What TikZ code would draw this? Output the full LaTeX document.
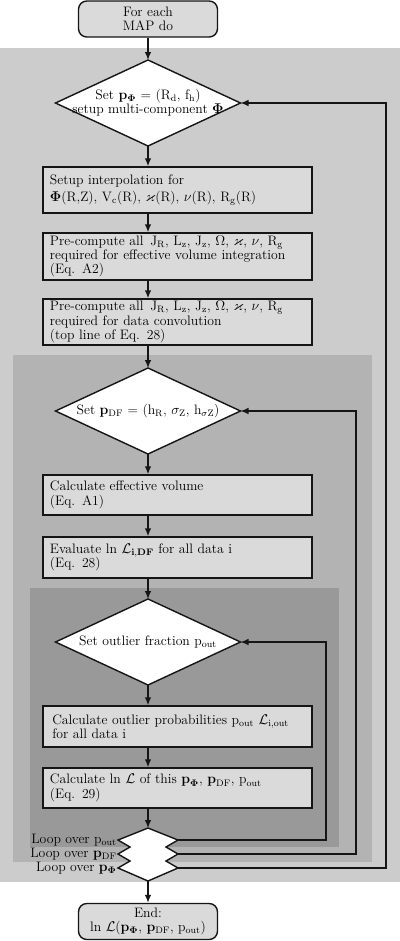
\documentclass[tikz,border=0pt]{standalone}
\usepackage{amsmath}
\usepackage{amssymb}
\usetikzlibrary{arrows.meta, shapes.geometric}
\definecolor{bglight}{HTML}{CCCCCC}
\definecolor{bgmid}{HTML}{B3B3B3}
\definecolor{bgdark}{HTML}{999999}
\definecolor{boxgray}{HTML}{DADADA}
\definecolor{linegray}{HTML}{151515}

\begin{document}
\begin{tikzpicture}[
  x=0.03cm, y=-0.03cm,
  every node/.style={font=\fontsize{11.7}{12.2}\selectfont},
  termnode/.style={rectangle, rounded corners=0.25cm, draw=linegray, fill=boxgray, line width=1.2pt, minimum width=4.17cm, minimum height=1.08cm, align=center, inner sep=1pt},
  setnode/.style={diamond, draw=linegray, fill=white, line width=1.2pt, aspect=2.15, minimum width=5.55cm, minimum height=2.58cm, inner xsep=-1.3cm, inner ysep=0pt, outer sep=0pt, align=center},
  calcnode/.style={rectangle, draw=linegray, fill=boxgray, line width=1.2pt, text width=7.65cm, inner xsep=0.21cm, inner ysep=1pt, align=left},
  loopnode/.style={anchor=east, inner sep=1pt},
  flow/.style={-{Latex[length=2.4mm, width=2mm]}, draw=linegray, line width=1.2pt},
]
\useasboundingbox (0,0) rectangle (400,941);

% nested loop backgrounds
\fill[bglight] (0,48) rectangle (400,882);
\fill[bgmid] (13,355) rectangle (372,862);
\fill[bgdark] (30,588) rectangle (339,847);

\coordinate (axis) at (148,0);

% outer loop: potential
\node[termnode] (start) at (148,19) {For each\\MAP do};
\node[setnode] (setphi) at (148,103) {Set $\mathbf{p}_{\boldsymbol{\Phi}}$ = (R$_\mathrm{d}$, f$_\mathrm{h}$)\\setup multi-component $\boldsymbol{\Phi}$};
\node[calcnode, minimum height=1.38cm] (interp) at (177.5,190) {Setup interpolation for\\[2.5pt]$\boldsymbol{\Phi}$(R,Z), V$_\mathrm{c}$(R), $\varkappa$(R), $\nu$(R), R$_\mathrm{g}$(R)};
\node[calcnode, minimum height=1.41cm] (prevol) at (177.5,256.5) {Pre-compute all \,J$_\mathrm{R}$, L$_\mathrm{z}$, J$_\mathrm{z}$, $\Omega$, $\varkappa$, $\nu$, R$_\mathrm{g}$\\required for effective volume integration\\(Eq. A2)};
\node[calcnode, minimum height=1.38cm] (preconv) at (177.5,322) {Pre-compute all \,J$_\mathrm{R}$, L$_\mathrm{z}$, J$_\mathrm{z}$, $\Omega$, $\varkappa$, $\nu$, R$_\mathrm{g}$\\required for data convolution\\(top line of Eq. 28)};

% middle loop: DF parameters
\node[setnode] (setdf) at (148,411) {Set $\mathbf{p}_\mathrm{DF}$ = (h$_\mathrm{R}$, $\sigma_\mathrm{Z}$, h$_{\sigma\mathrm{Z}}$)};
\node[calcnode, minimum height=1.2cm] (effvol) at (177.5,495) {Calculate effective volume\\(Eq. A1)};
\node[calcnode, minimum height=1.23cm] (evalL) at (177.5,557.5) {Evaluate ln $\mathcal{L}_\mathbf{i,DF}$ for all data i\\(Eq. 28)};

% inner loop: outliers
\node[setnode] (setout) at (148,642) {Set outlier fraction p$_\mathrm{out}$};
\node[calcnode, minimum height=1.23cm] (outprob) at (177.5,726.5) {\,Calculate outlier probabilities p$_\mathrm{out}$ $\mathcal{L}_\mathrm{i,out}$\\\,for all data i};
\node[calcnode, minimum height=1.2cm] (calcL) at (177.5,788) {Calculate ln $\mathcal{L}$ of this $\mathbf{p}_{\boldsymbol{\Phi}}$, $\mathbf{p}_\mathrm{DF}$, p$_\mathrm{out}$\\(Eq. 29)};

% zigzag loop ends
\coordinate (loop) at (148,855);
\draw[draw=linegray, line width=1.2pt, fill=white] (loop) ++(0,-27) coordinate (looptop)
  -- ++(30,12) coordinate (tipout) -- ++(-12,7) -- ++(12,7) coordinate (tipdf)
  -- ++(-12,7) -- ++(12,7) coordinate (tipphi) -- ++(-30,13) coordinate (loopbot)
  -- ++(-30,-13) coordinate (lphi) -- ++(12,-7) -- ++(-12,-7) coordinate (ldf)
  -- ++(12,-7) -- ++(-12,-7) coordinate (lout) -- cycle;
\node[loopnode] (lblout) at (lout) {Loop over p$_\mathrm{out}$};
\node[loopnode] (lbldf) at (ldf) {Loop over $\mathbf{p}_\mathrm{DF}$};
\node[loopnode] (lblphi) at (lphi) {Loop over $\mathbf{p}_{\boldsymbol{\Phi}}$};

\node[termnode] (finish) at (148,921.5) {End:\\ln $\mathcal{L}$($\mathbf{p}_{\boldsymbol{\Phi}}$, $\mathbf{p}_\mathrm{DF}$, p$_\mathrm{out}$)};

% main flow
\draw[flow] (start) -- (setphi);
\foreach \a/\b in {setphi/interp, setdf/effvol, setout/outprob}
  \draw[flow] (\a.south) -- (axis |- \b.north);
\foreach \a/\b in {interp/prevol, prevol/preconv, effvol/evalL, outprob/calcL}
  \draw[flow] (axis |- \a.south) -- (axis |- \b.north);
\foreach \a/\b in {preconv/setdf, evalL/setout}
  \draw[flow] (axis |- \a.south) -- (\b.north);
\draw[flow] (axis |- calcL.south) -- (looptop);
\draw[flow] (loopbot) -- (finish);

% loop returns
\draw[flow] (tipout) -- ++(148,0) |- (setout.east);
\draw[flow] (tipdf) -- ++(178,0) |- (setdf.east);
\draw[flow] (tipphi) -- ++(208,0) |- (setphi.east);

\end{tikzpicture}
\end{document}
